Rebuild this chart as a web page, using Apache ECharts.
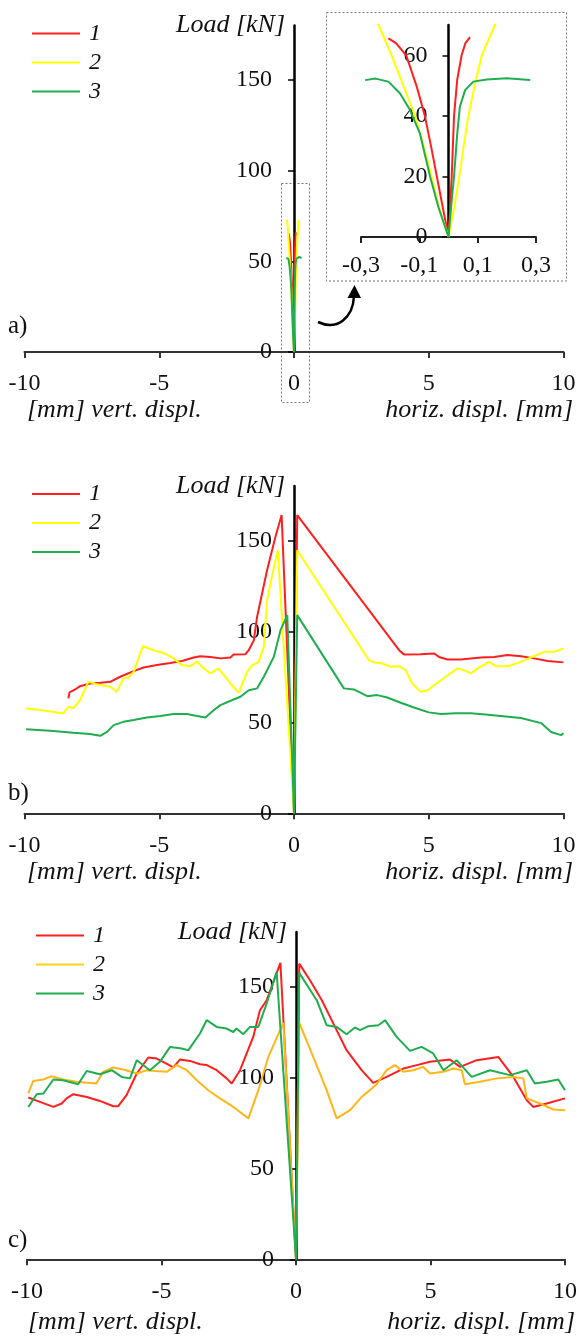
<!DOCTYPE html>
<html><head><meta charset="utf-8">
<script src="https://cdn.jsdelivr.net/npm/echarts@6/dist/echarts.min.js"></script>
<style>html,body{margin:0;padding:0;background:#fff}#c{width:581px;height:1336px}</style>
</head><body><div id="c"></div>
<script>
// ---- data ----
const seriesNames = ['1', '2', '3'];
const xTicks = [-10, -5, 0, 5, 10];
const yTicks = [0, 50, 100, 150];
const insetXTicks = [-0.3, -0.1, 0.1, 0.3];
const insetYTicks = [0, 20, 40, 60];

// panel a (also shown in the inset): [displacement mm, load kN]
const a1 = [[-0.206,65.6],[-0.18,64],[-0.145,60],[-0.11,50],[-0.081,40],[-0.06,30],[-0.04,20],[-0.02,10],[0,0],[0.006,10],[0.011,20],[0.019,40],[0.03,52],[0.045,60],[0.058,64],[0.074,66]];
const a2 = [[-0.26,73],[-0.24,70],[-0.195,60],[-0.155,50],[-0.115,40],[-0.085,30],[-0.058,20],[-0.033,10],[0,0],[0.02,10],[0.037,20],[0.052,30],[0.068,40],[0.09,50],[0.114,60],[0.159,70],[0.175,73]];
const a3 = [[-0.286,51.8],[-0.25,52.3],[-0.206,51.3],[-0.166,47.4],[-0.132,41.9],[-0.098,34.2],[-0.063,19.9],[-0.035,10],[0,0],[0.011,12.2],[0.019,20],[0.03,34.2],[0.039,43],[0.057,48.5],[0.085,51.3],[0.131,52],[0.2,52.4],[0.28,51.8]];

// panel b
const b1 = [[-8.37,63.2],[-8.33,66.5],[-8.12,68.1],[-7.94,69.9],[-7.57,71.4],[-7.19,71.8],[-6.82,72.3],[-6.45,75.1],[-6.02,77.8],[-5.58,80.2],[-5.09,81.5],[-4.59,82.7],[-4.16,83.8],[-3.72,85.7],[-3.48,86.4],[-3.10,86.0],[-2.73,85.2],[-2.36,85.7],[-2.24,87.4],[-1.80,87.5],[-1.68,89.7],[-1.49,95.2],[-1.37,108],[-1.0,133.7],[-0.69,152],[-0.46,164],[0,0],[0.12,164],[3.9,89.7],[4.08,87.4],[4.70,87.5],[5.20,87.9],[5.38,86.0],[5.69,84.6],[6.19,84.6],[6.93,85.7],[7.43,86.0],[7.93,87],[8.42,86.4],[8.91,85.2],[9.41,83.8],[10,83]];
const b2 = [[-9.94,57.7],[-9.42,56.8],[-8.56,54.9],[-8.37,58.6],[-8.19,57.7],[-7.94,62.3],[-7.63,72.3],[-7.19,70.5],[-6.82,69.6],[-6.57,66.8],[-6.33,74.2],[-6.14,74.7],[-5.95,77.8],[-5.61,91.9],[-5.21,89.7],[-4.84,88.2],[-4.47,85.2],[-4.16,81.5],[-3.85,80.9],[-3.60,83.3],[-3.35,79.7],[-3.10,76.9],[-2.80,79.7],[-2.36,71.4],[-2.05,66.3],[-1.74,77.8],[-1.55,81.5],[-1.31,83.3],[-1.12,91.5],[-1.0,117.2],[-0.81,131],[-0.60,144.7],[0,0],[0.12,144.7],[2.78,84.2],[2.97,83],[3.22,82.7],[3.59,80.6],[3.90,80.9],[4.14,78.7],[4.39,71.4],[4.70,66.8],[4.95,67.7],[5.45,73.2],[6.07,79.7],[6.31,78.7],[6.56,76.9],[6.81,79.7],[7.24,83.3],[7.49,80.9],[7.93,80.9],[8.42,83.3],[8.79,85.7],[9.29,88.8],[9.66,88.8],[10,90.7]];
const b3 = [[-9.94,46.2],[-9.05,45.4],[-8.19,44.3],[-7.57,43.6],[-7.19,42.6],[-6.94,44.8],[-6.69,48.5],[-6.33,50.3],[-5.95,51.3],[-5.46,52.7],[-4.96,53.5],[-4.47,54.6],[-3.97,54.6],[-3.60,53.5],[-3.29,52.7],[-2.97,56.8],[-2.73,59.5],[-2.24,62.6],[-1.99,64.1],[-1.68,67.7],[-1.37,68.7],[-1.12,75.1],[-0.75,86.0],[-0.5,100.7],[-0.25,109],[0,0],[0.12,109],[1.85,68.7],[2.22,68.1],[2.72,64.4],[3.09,65],[3.46,63.7],[3.96,60.8],[4.45,58.2],[5.0,55.5],[5.45,54.6],[6.0,55],[6.56,55],[7.1,54.3],[7.67,53.5],[8.42,52.4],[9.17,49.6],[9.54,44.7],[9.91,43],[10,44]];

// panel c
const c1 = [[-9.95,89],[-9.52,86.6],[-9.02,83.8],[-8.71,85.7],[-8.53,88.5],[-8.28,90.8],[-7.78,89.3],[-7.29,87.1],[-6.79,84.2],[-6.61,84.2],[-6.30,90.3],[-5.92,102.2],[-5.49,111],[-5.18,110.4],[-4.87,108],[-4.56,105.5],[-4.31,109.9],[-3.94,109.1],[-3.57,107.3],[-3.32,106.8],[-2.95,104],[-2.58,99.5],[-2.39,96.7],[-2.08,104],[-1.59,122.3],[-1.34,137],[-1.09,142.5],[-0.58,163],[0,0],[0.12,162.6],[0.52,153.5],[0.96,142.5],[1.45,127.8],[1.88,115],[2.44,104],[2.87,97],[3.37,100.3],[3.99,104.9],[4.49,106.8],[4.98,108.6],[5.72,109.9],[6.10,105.8],[6.72,109.5],[7.52,111.3],[8.08,100.3],[8.58,87.5],[8.82,83.8],[9.32,85.7],[10,88.5]];
const c2 = [[-9.95,91.2],[-9.77,98.1],[-9.39,98.9],[-9.09,100.7],[-8.66,98.9],[-8.16,97.6],[-7.42,96.7],[-7.17,103.1],[-6.79,105.5],[-6.42,104.4],[-5.92,102.2],[-5.55,104],[-5.24,103.6],[-4.81,103.1],[-4.44,106.8],[-4.06,104],[-3.69,98.5],[-3.26,93],[-2.83,88.5],[-2.33,83.8],[-1.77,77.5],[-1.40,93],[-1.03,111.3],[-0.47,130],[0,0],[0.12,130],[0.64,111.3],[1.14,93],[1.51,77.5],[2.01,82],[2.44,89.3],[3.0,96.3],[3.37,104],[3.68,106.8],[3.99,103.1],[4.36,104],[4.73,105.8],[4.98,102.2],[5.48,103.1],[5.85,104.9],[6.16,104],[6.28,96.3],[6.84,97.6],[7.46,99.5],[8.08,100.3],[8.45,99.5],[8.58,88.5],[9.07,85.7],[9.57,82.4],[10,82]];
const c3 = [[-9.95,83.8],[-9.64,90.8],[-9.39,91.2],[-9.02,98.9],[-8.66,98.5],[-8.10,96.3],[-7.78,103.6],[-7.29,101.8],[-6.85,104],[-6.48,100.3],[-6.17,99.5],[-5.92,109.5],[-5.43,104],[-5.06,108.6],[-4.68,116.8],[-4.25,115.9],[-4.0,115],[-3.57,124.2],[-3.32,131.5],[-2.95,127.8],[-2.58,126.9],[-2.33,125],[-2.21,126.9],[-1.96,123.8],[-1.71,127.8],[-1.40,127.8],[-1.09,140.7],[-0.72,158],[0,0],[0.12,157.5],[0.77,142.5],[1.14,128.7],[1.51,127.8],[1.88,123.8],[2.19,127.5],[2.38,126],[2.69,128.2],[3.06,128.7],[3.31,131.5],[3.74,122.3],[4.24,114.6],[4.67,116.8],[5.10,113.2],[5.48,104],[5.97,109.5],[6.53,100.3],[7.21,104],[7.96,101.3],[8.58,104],[8.88,96.7],[9.32,97.6],[9.75,98.9],[10,93]];

// ---- styling ----
const FONT = 'Liberation Serif';
const FS = 24;
const RED = '#ff1f1f', YEL = '#ffff00', GRN = '#1fae4f', ORA = '#ffb619', YEL2 = '#ffd21a';

const grids = [
  {left: 24.5, top: 25.5, width: 539, height: 326.5},
  {left: 24.5, top: 486, width: 539, height: 327.3},
  {left: 27, top: 932, width: 538, height: 327.3},
  {left: 361, top: 25, width: 175, height: 212}
].map(g => Object.assign({containLabel: false, outerBoundsMode: 'none'}, g));

function mainX(i) {
  return {
    gridIndex: i, type: 'value', min: -10, max: 10, interval: 5,
    axisLine: {show: true, onZero: true, lineStyle: {color: '#333', width: 2}},
    axisTick: {show: true, length: 6, lineStyle: {color: '#333', width: 2}},
    axisLabel: {margin: 20, fontFamily: FONT, fontSize: FS, color: '#111'},
    splitLine: {show: false}
  };
}
// y axis sits on x = 0: shift it right from the grid's left edge
function mainY(i, shift) {
  return {
    gridIndex: i, type: 'value', min: 0, max: 180, position: 'left', offset: -shift,
    axisLine: {show: true, onZero: false, lineStyle: {color: '#000', width: 2.5}},
    axisTick: {show: true, length: 6, customValues: yTicks, lineStyle: {color: '#000', width: 1.5}},
    axisLabel: {customValues: yTicks, margin: 22, fontFamily: FONT, fontSize: FS, color: '#111'},
    splitLine: {show: false},
    name: 'Load [kN]', nameLocation: 'end', nameGap: 0,
    nameTextStyle: {fontFamily: FONT, fontStyle: 'italic', fontSize: 26, color: '#111',
      align: 'right', verticalAlign: 'middle', padding: [0, 9, 0, 0]}
  };
}
const commaFmt = v => String(v).replace('.', ',');

const xAxis = [mainX(0), mainX(1), mainX(2), {
  gridIndex: 3, type: 'value', min: -0.3, max: 0.3,
  axisLine: {show: true, onZero: true, lineStyle: {color: '#222', width: 2}},
  axisTick: {show: true, length: 6, customValues: insetXTicks, lineStyle: {color: '#222', width: 2}},
  axisLabel: {customValues: insetXTicks, formatter: commaFmt, margin: 17, fontFamily: FONT, fontSize: FS, color: '#111'},
  splitLine: {show: false}
}];
const yAxis = [mainY(0, 269.5), mainY(1, 269.5), mainY(2, 269), {
  gridIndex: 3, type: 'value', min: 0, max: 70, position: 'left', offset: -87.5,
  axisLine: {show: true, onZero: false, lineStyle: {color: '#000', width: 2.5}},
  axisTick: {show: true, length: 6, customValues: insetYTicks, lineStyle: {color: '#000', width: 1.5}},
  axisLabel: {customValues: insetYTicks, margin: 21, fontFamily: FONT, fontSize: FS, color: '#111'},
  splitLine: {show: false}
}];

function line(name, data, idx, color) {
  return {
    name: name, type: 'line', data: data, xAxisIndex: idx, yAxisIndex: idx,
    showSymbol: false, symbol: 'none', smooth: false, clip: true,
    lineStyle: {color: color, width: 2}, itemStyle: {color: color},
    emphasis: {disabled: true}
  };
}
const series = [
  line(seriesNames[0], a1, 0, RED), line(seriesNames[1], a2, 0, YEL), line(seriesNames[2], a3, 0, GRN),
  line(seriesNames[0], b1, 1, RED), line(seriesNames[1], b2, 1, YEL), line(seriesNames[2], b3, 1, GRN),
  line(seriesNames[0], c1, 2, RED), line(seriesNames[1], c2, 2, ORA), line(seriesNames[2], c3, 2, GRN),
  line(seriesNames[0], a1, 3, RED), line(seriesNames[1], a2, 3, YEL), line(seriesNames[2], a3, 3, GRN)
];

function legend(left, top, cols) {
  return {
    left: left, top: top, orient: 'vertical', icon: 'rect', itemWidth: 48, itemHeight: 2, itemGap: 5,
    selectedMode: false,
    data: seriesNames.map((n, i) => ({name: n, itemStyle: {color: cols[i]}})),
    textStyle: {fontFamily: FONT, fontStyle: 'italic', fontSize: FS, color: '#111', padding: [0, 0, 0, 4]}
  };
}
const legends = [
  legend(27, 16.5, [RED, YEL, GRN]),
  legend(27, 477, [RED, YEL, GRN]),
  legend(31, 918.5, [RED, YEL2, GRN])
];

function txt(t, x, y, align, italic) {
  return {type: 'text', x: x, y: y, silent: true,
    style: {text: t, align: align, verticalAlign: 'middle', fill: '#111',
      font: (italic ? 'italic 26px' : '25px') + ' "' + FONT + '"'}};
}
const graphic = [
  txt('a)', 8, 326, 'left', false),
  txt('b)', 8, 793, 'left', false),
  txt('c)', 8, 1240, 'left', false),
  txt('[mm] vert. displ.', 27, 410, 'left', true),
  txt('horiz. displ. [mm]', 573, 410, 'right', true),
  txt('[mm] vert. displ.', 27, 872, 'left', true),
  txt('horiz. displ. [mm]', 573, 872, 'right', true),
  txt('[mm] vert. displ.', 28, 1322, 'left', true),
  txt('horiz. displ. [mm]', 575, 1322, 'right', true),
  {type: 'rect', silent: true, shape: {x: 326.5, y: 12.5, width: 240, height: 268.5},
    style: {fill: 'none', stroke: '#777', lineWidth: 1, lineDash: [2, 2]}},
  {type: 'rect', silent: true, shape: {x: 281.5, y: 183.5, width: 28, height: 219},
    style: {fill: 'none', stroke: '#777', lineWidth: 1, lineDash: [2, 2]}},
  {type: 'bezierCurve', silent: true,
    shape: {x1: 318, y1: 322, cpx1: 337, cpy1: 331, cpx2: 353, cpy2: 318, x2: 354, y2: 296},
    style: {fill: 'none', stroke: '#000', lineWidth: 2.5}},
  {type: 'polygon', silent: true, shape: {points: [[354.5, 285], [347.5, 298], [361, 298]]},
    style: {fill: '#000'}}
];

const chart = echarts.init(document.getElementById('c'), null, {renderer: 'canvas'});
chart.setOption({
  animation: false,
  backgroundColor: '#fff',
  grid: grids, xAxis: xAxis, yAxis: yAxis, series: series,
  legend: legends, graphic: graphic
});
</script></body></html>
